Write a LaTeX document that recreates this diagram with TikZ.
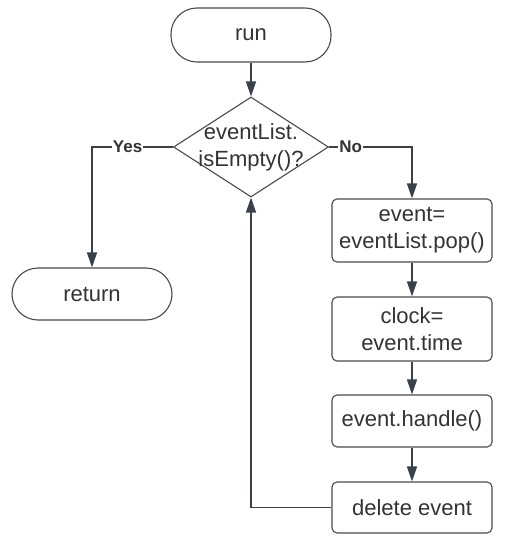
\documentclass[tikz,border=0pt]{standalone}
\usepackage{fontspec}
\setmainfont{Liberation Sans}
\usetikzlibrary{arrows.meta,shapes.geometric}
\definecolor{linec}{HTML}{3A414A}
\definecolor{boxc}{HTML}{4A4A4A}
\definecolor{txtc}{HTML}{333333}
\tikzset{
  base/.style={draw=boxc, line width=1.1pt, text=txtc, font=\fontsize{22}{27}\selectfont, align=center, inner sep=0pt},
  term/.style={base, minimum width=160pt, rounded corners=26pt},
  proc/.style={base, minimum width=160pt, rounded corners=5pt},
  decision/.style={draw=boxc, line width=1.1pt, diamond, minimum width=155pt, minimum height=100pt, inner sep=0pt},
  conn/.style={draw=linec, line width=1.2pt, -{Triangle[length=15pt,width=10pt]}},
  lbl/.style={fill=white, text=txtc, font=\fontsize{17}{19}\selectfont\bfseries, inner sep=1pt}
}
\begin{document}
\begin{tikzpicture}[x=1pt,y=-1pt]
\useasboundingbox[fill=white] (0,0) rectangle (508,540);
\node[term, minimum height=54pt] (run) at (251,35) {run};
\node[decision] (dia) at (251,147) {};
\node[text=txtc, font=\fontsize{22}{27}\selectfont, align=center] (diat) at (251,147) {eventList.\\isEmpty()?};
\node[term, minimum height=52pt] (ret) at (92,294) {return};
\node[proc, minimum height=63pt] (b1) at (412,230.5) {event=\\eventList.pop()};
\node[proc, minimum height=64pt] (b2) at (412,329) {clock=\\event.time};
\node[proc, minimum height=52pt] (b3) at (412,421) {event.handle()};
\node[proc, minimum height=51pt] (b4) at (412,507.5) {delete event};
\draw[conn] (run) -- (dia);
\draw[conn] (dia.west) -| node[lbl, pos=0.28] {Yes} (ret.north);
\draw[conn] (dia.east) -| node[lbl, pos=0.13] {No} (b1.north);
\draw[conn] (b1) -- (b2);
\draw[conn] (b2) -- (b3);
\draw[conn] (b3) -- (b4);
\draw[conn] (b4.west) -| (dia.south);
\end{tikzpicture}
\end{document}
